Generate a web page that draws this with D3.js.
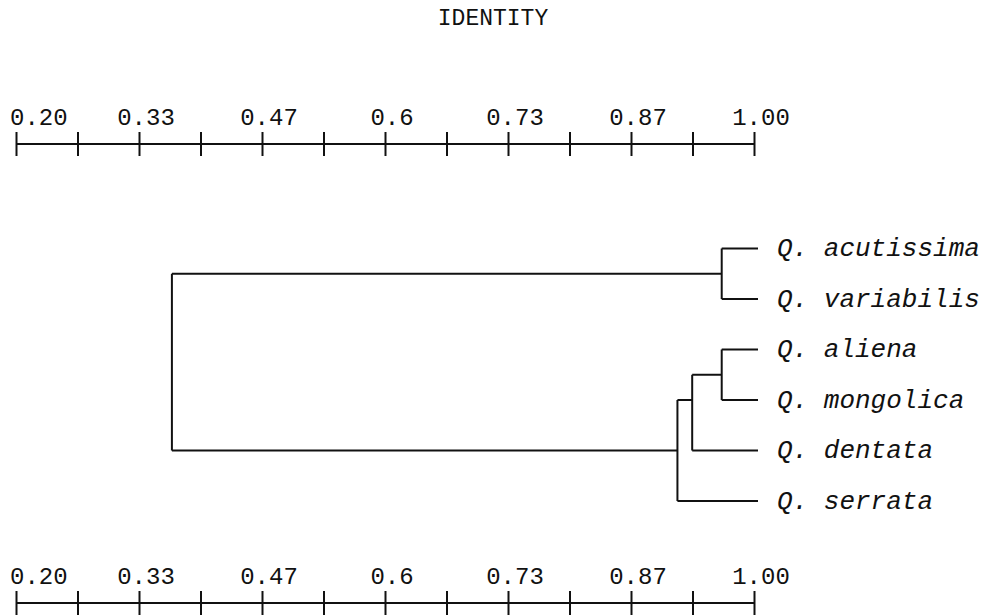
<!DOCTYPE html>
<html>
<head>
<meta charset="utf-8">
<script src="https://cdn.jsdelivr.net/npm/d3@7"></script>
<style>
  html, body { margin:0; padding:0; background:#fff; }
  svg { display:block; }
  text { font-family:"Liberation Mono", "DejaVu Sans Mono", monospace; fill:#111; }
</style>
</head>
<body>
<svg id="chart" width="985" height="616"></svg>
<script>
// leaves, top to bottom
const leaves = ["Q. acutissima", "Q. variabilis", "Q. aliena", "Q. mongolica", "Q. dentata", "Q. serrata"];
// internal nodes: children, identity level, row in leaf order
const nodeIds = ["AV", "AM", "AMD", "AMDS", "root"];
const nodeChildren = [
  ["Q. acutissima", "Q. variabilis"],
  ["Q. aliena", "Q. mongolica"],
  ["AM", "Q. dentata"],
  ["AMD", "Q. serrata"],
  ["AV", "AMDS"]
];
const nodeIdentity = [0.965, 0.965, 0.933, 0.917, 0.369];
const nodeRow = [0.5, 2.5, 3.0, 4.0, 2.25];
// axis
const tickValues = d3.range(13).map(i => 0.2 + i * 0.8 / 12);
const tickLabels = ["0.20", "", "0.33", "", "0.47", "", "0.6", "", "0.73", "", "0.87", "", "1.00"];
const title = "IDENTITY";

const svg = d3.select("#chart");
const x = d3.scaleLinear().domain([0.2, 1.0]).range([16, 754]);
const y = d3.scaleLinear().domain([0, leaves.length - 1]).range([248.5, 501]);

// lookup for identity/row of any node
const info = {};
leaves.forEach((l, i) => info[l] = { id: 1.0, row: i });
nodeIds.forEach((n, i) => info[n] = { id: nodeIdentity[i], row: nodeRow[i] });

svg.append("text").attr("x", 493).attr("y", 25).attr("text-anchor", "middle")
  .style("font-size", "23px").text(title);

function drawAxis(yLine){
  const g = svg.append("g").attr("transform", `translate(0,${yLine + 12})`);
  g.call(d3.axisTop(x).tickValues(tickValues).tickSize(24).tickSizeOuter(0).tickFormat(""));
  g.select(".domain").remove();
  g.selectAll(".tick line").attr("stroke", "#111").attr("stroke-width", 2);
  svg.append("line").attr("x1", x(0.2)).attr("x2", x(1.0)).attr("y1", yLine).attr("y2", yLine)
    .attr("stroke", "#111").attr("stroke-width", 2);
  svg.append("g").selectAll("text").data(tickValues.filter((d, i) => tickLabels[i]))
    .enter().append("text")
    .attr("x", (d, i) => i === 0 ? x(d) - 6 : x(d) + 7)
    .attr("y", yLine - 19)
    .attr("text-anchor", (d, i) => i === 0 ? "start" : "middle")
    .style("font-size", "24px")
    .text(d => tickLabels[tickValues.indexOf(d)]);
}
drawAxis(144);
drawAxis(603);

// dendrogram
const tree = svg.append("g").attr("fill", "none").attr("stroke", "#111").attr("stroke-width", 2);
nodeIds.forEach((n, i) => {
  const nx = x(nodeIdentity[i]);
  const kids = nodeChildren[i].map(c => info[c]);
  tree.append("line").attr("x1", nx).attr("x2", nx)
    .attr("y1", y(kids[0].row)).attr("y2", y(kids[1].row));
  kids.forEach(k => {
    tree.append("line").attr("x1", nx).attr("x2", x(k.id))
      .attr("y1", y(k.row)).attr("y2", y(k.row));
  });
});
// leaf tails
leaves.forEach((l, i) => {
  tree.append("line").attr("x1", x(1.0)).attr("x2", x(1.0) + 4).attr("y1", y(i)).attr("y2", y(i));
});

svg.append("g").selectAll("text").data(leaves).enter().append("text")
  .attr("x", x(1.0) + 23).attr("y", (d, i) => y(i)).attr("dy", "0.3em")
  .style("font-size", "26px").style("font-style", "italic")
  .text(d => d);
</script>
</body>
</html>
